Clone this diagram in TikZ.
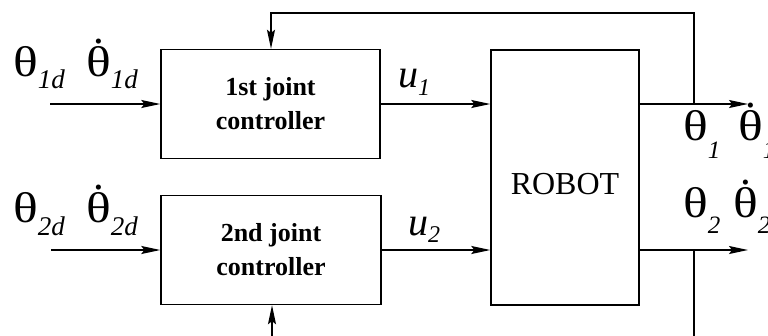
\documentclass[tikz,border=0pt]{standalone}
\usepackage{fontspec}
\usepackage{graphicx}
\setmainfont{Liberation Serif}
\usetikzlibrary{arrows.meta}

\newcommand{\thsym}{\scalebox{1.2}[1]{θ}}
\newcommand{\dtheta}{{\ooalign{\thsym\cr\hidewidth\raisebox{0.76em}{.}\hidewidth\cr}}}
\newcommand{\lsub}[3]{\raisebox{#1}{\fontsize{#2}{#2}\selectfont\itshape #3}}

\tikzset{
  blk/.style={draw,line width=1.4pt,inner sep=0pt},
  arr/.style={line width=1.4pt,-{Stealth[length=19pt,width=8pt,inset=3pt]}},
  ln/.style={line width=1.4pt},
  sym/.style={inner sep=0pt,anchor=base west,font=\fontsize{43}{43}\selectfont},
  ctl/.style={inner sep=0pt,anchor=base west,font=\fontsize{40}{40}\selectfont\itshape},
}

\begin{document}
\begin{tikzpicture}[x=1pt,y=-1pt]
        \useasboundingbox (0,0) rectangle (768,335);
        % blocks
        \node[blk,minimum width=219pt,minimum height=109pt,align=center,
              font=\fontsize{26}{34}\selectfont\bfseries] (ctrlA) at (270.5,104) {1st joint\\controller};
        \node[blk,minimum width=220pt,minimum height=109pt,align=center,
              font=\fontsize{26}{34}\selectfont\bfseries] (ctrlB) at (271,250) {2nd joint\\controller};
        \node[blk,minimum width=148pt,minimum height=255pt,text height=35pt,
              font=\fontsize{32}{32}\selectfont] (robot) at (565,177.5) {ROBOT};
        % inputs
        \coordinate (inA) at (50,104);
        \coordinate (inB) at (51,250);
        \draw[arr] (inA) -- (ctrlA.west);
        \draw[arr] (inB) -- (ctrlB.west);
        \node[sym] (thA) at (13,76) {\thsym\lsub{-12pt}{27}{1d}};
        \node[sym] (dthA) at (86,76) {\dtheta\lsub{-12pt}{27}{1d}};
        \node[sym] (thB) at (13,222) {\thsym\lsub{-13pt}{27}{2d}};
        \node[sym] (dthB) at (86,222) {\dtheta\lsub{-13pt}{27}{2d}};
        % controls
        \draw[arr] (ctrlA.east) -- (ctrlA.east -| robot.west);
        \draw[arr] (ctrlB.east) -- (ctrlB.east -| robot.west);
        \node[ctl] (uA) at (398,87) {u\lsub{-8pt}{24}{1}};
        \node[ctl] (uB) at (408,235) {u\lsub{-7pt}{24}{2}};
        % outputs
        \coordinate (outA) at (748,104);
        \coordinate (outB) at (748,250);
        \draw[arr] (ctrlA.east -| robot.east) -- (outA);
        \draw[arr] (ctrlB.east -| robot.east) -- (outB);
        \node[sym] (thC) at (683,140) {\thsym\lsub{-18pt}{25}{1}};
        \node[sym] (dthC) at (738,140) {\dtheta\lsub{-18pt}{25}{1}};
        \node[sym] (thD) at (683,217) {\thsym\lsub{-16pt}{25}{2}};
        \node[sym] (dthD) at (733,217) {\dtheta\lsub{-16pt}{25}{2}};
        % feedback
        \coordinate (tapA) at (694,104);
        \coordinate (tapB) at (694,250);
        \coordinate (fbA) at (271,13);
        \coordinate (fbB) at (694,340);
        \coordinate (fbC) at (272,340);
        \draw[arr] (tapA) |- (fbA) -- (fbA |- ctrlA.north);
        \draw[ln] (tapB) -- (fbB);
        \draw[arr] (fbC) -- (fbC |- ctrlB.south);
\end{tikzpicture}
\end{document}
